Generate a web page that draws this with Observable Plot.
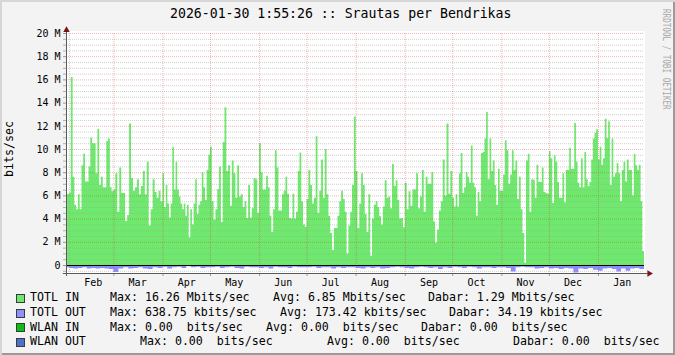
<!DOCTYPE html>
<html><head><meta charset="utf-8">
<script src="https://cdn.jsdelivr.net/npm/d3@7"></script>
<script src="https://cdn.jsdelivr.net/npm/@observablehq/plot@0.6"></script>
<style>
body{margin:0;background:#fff}
#wrap{position:relative;width:675px;height:355px;background:#f3f3f3;box-shadow:inset 2px 2px 0 #d6d6d6, inset -2px -2px 0 #9a9a9a;font-family:"DejaVu Sans Mono",monospace;overflow:hidden}
#canvas{position:absolute;left:66px;top:31px;width:579px;height:242px;background:#fff}
#wrap svg{position:absolute;left:0;top:0}
.t{position:absolute;white-space:pre;color:#000;line-height:1}
.sq{position:absolute;width:7px;height:7px;border:1px solid #3a3a3a}
</style></head><body><div id="wrap"><div id="canvas"></div></div>
<script>
// ---- data (Mbits/sec), one array per month segment ----
const title = "2026-01-30 1:55:26 :: Srautas per Bendrikas";
const periodStarts = ["2025-01-30T01:55:26Z","2025-02-01","2025-03-01","2025-04-01","2025-05-01","2025-06-01","2025-07-01","2025-08-01","2025-09-01","2025-10-01","2025-11-01","2025-12-01","2026-01-01"];
const periodEnd = "2026-01-30T01:55:26Z";

const inJan25 = [6.1, 6.15];
const inFeb = [6.26, 16.2, 7.6, 5.2, 4.8, 6.1, 4.8, 8.6, 9.6, 7.2, 7.2, 8.5, 11.0, 10.5, 10.5, 7.9, 11.75, 6.9, 7.6, 6.7, 6.7, 10.7, 10.9, 6.7, 6.35];
const inMar = [6.5, 7.9, 4.6, 8.4, 6.2, 6.2, 3.8, 4.3, 12.2, 7.5, 6.4, 6.7, 7.4, 6.1, 6.8, 8.1, 6.1, 8.9, 3.4, 4.8, 7.4, 6.3, 5.8, 6.4, 5.5];
const inApr = [7.9, 5.0, 6.9, 5.3, 4.1, 5.3, 10.2, 6.5, 8.9, 6.5, 5.9, 5.3, 4.8, 5.3, 4.25, 5.2, 2.4, 4.8, 3.5, 5.3, 7.4, 4.4, 5.2, 5.5, 8.0, 6.7, 5.6, 8.2, 9.5];
const inMay = [10.2, 5.5, 3.9, 4.8, 6.55, 8.5, 3.7, 10.6, 13.6, 8.1, 8.6, 5.1, 9.0, 7.9, 5.8, 8.6, 5.9, 6.1, 5.0, 5.5, 4.05, 6.9, 4.1, 4.9, 7.5, 7.4, 4.5];
const inJun = [10.5, 8.0, 6.5, 6.5, 7.7, 6.7, 4.25, 2.85, 4.8, 9.9, 8.4, 4.7, 4.7, 6.1, 6.4, 7.6, 6.15, 4.05, 4.0, 6.15, 4.0, 4.6, 8.1, 9.7, 5.5, 3.5, 3.3];
const inJul = [5.7, 8.2, 6.9, 5.3, 5.8, 11.1, 4.5, 6.4, 9.1, 5.8, 10.0, 6.1, 4.25, 2.75, 1.3, 3.2, 3.2, 4.25, 5.5, 6.4, 5.7, 4.6, 1.0, 3.4, 4.6, 6.9, 12.8];
const inAug = [8.1, 3.2, 5.3, 7.9, 6.9, 4.4, 2.85, 6.1, 0.8, 4.0, 5.2, 5.5, 5.0, 4.2, 3.5, 5.05, 7.3, 5.8, 5.9, 4.9, 8.7, 6.8, 7.3, 5.6, 4.0, 4.05, 3.25];
const inSep = [7.1, 4.8, 6.35, 5.1, 6.5, 6.5, 7.9, 4.9, 5.9, 8.2, 4.6, 7.6, 7.0, 7.0, 8.0, 3.75, 1.95, 3.05, 4.7, 5.5, 9.1, 6.0, 12.2, 6.15, 8.1];
const inOct = [5.8, 5.05, 6.1, 5.05, 7.9, 9.65, 6.2, 6.7, 8.0, 7.6, 7.1, 10.3, 7.1, 6.7, 4.25, 6.3, 5.5, 9.65, 9.75, 10.9, 13.2, 7.4, 10.9, 8.1, 9.0, 6.9, 5.2, 8.3, 6.4];
const inNov = [6.4, 7.8, 10.75, 9.9, 7.0, 7.8, 9.9, 8.2, 9.0, 5.7, 7.6, 4.8, 2.75, 0.2, 9.0, 9.6, 4.6, 7.4, 7.35, 5.8, 8.65, 7.15, 7.15, 8.4, 6.3, 6.2, 6.15];
const inDec = [9.8, 9.2, 5.35, 9.45, 8.9, 7.15, 5.8, 5.8, 7.9, 5.4, 8.2, 8.2, 10.1, 8.3, 8.3, 12.25, 8.9, 7.1, 6.7, 9.2, 6.7, 9.75, 7.4, 6.8, 7.15, 9.1, 10.9, 11.4, 11.7];
const inJan26 = [9.1, 10.2, 8.65, 9.2, 12.6, 10.95, 12.4, 6.9, 10.9, 7.6, 7.9, 8.8, 7.9, 5.5, 8.2, 8.9, 7.2, 9.1, 8.2, 8.2, 6.0, 9.6, 8.6, 8.2, 8.65, 5.5, 1.2];

const outJan25 = [0.2, 0.2];
const outFeb = [0.25, 0.3, 0.25, 0.2, 0.3, 0.25, 0.3, 0.25, 0.3, 0.35];
const outMar = [0.6, 0.3, 0.2, 0.3, 0.25, 0.2, 0.3, 0.35, 0.2, 0.25];
const outApr = [0.15, 0.3, 0.2, 0.15, 0.25, 0.1, 0.2, 0.15, 0.25, 0.2];
const outMay = [0.2, 0.15, 0.25, 0.2, 0.15, 0.25, 0.3, 0.15, 0.2, 0.2];
const outJun = [0.25, 0.2, 0.3, 0.15, 0.2, 0.2, 0.25, 0.15, 0.2, 0.2];
const outJul = [0.2, 0.15, 0.25, 0.2, 0.2, 0.3, 0.2, 0.25, 0.2, 0.2];
const outAug = [0.25, 0.3, 0.2, 0.25, 0.2, 0.3, 0.25, 0.2, 0.15, 0.2];
const outSep = [0.25, 0.3, 0.2, 0.15, 0.2, 0.25, 0.2, 0.35, 0.2, 0.25];
const outOct = [0.15, 0.2, 0.25, 0.15, 0.2, 0.3, 0.2, 0.2, 0.25, 0.2];
const outNov = [0.2, 0.25, 0.55, 0.2, 0.15, 0.2, 0.2, 0.3, 0.25, 0.2];
const outDec = [0.3, 0.25, 0.35, 0.25, 0.3, 0.64, 0.3, 0.35, 0.25, 0.4];
const outJan26 = [0.5, 0.3, 0.25, 0.35, 0.55, 0.3, 0.5, 0.3, 0.25, 0.35];

const yMax = 20, yMin = -0.69;
const majorY = [0, 2, 4, 6, 8, 10, 12, 14, 16, 18, 20];
const minorY = [-0.5,0.5,1,1.5,2.5,3,3.5,4.5,5,5.5,6.5,7,7.5,8.5,9,9.5,10.5,11,11.5,12.5,13,13.5,14.5,15,15.5,16.5,17,17.5,18.5,19,19.5];
const minorX = ["2025-02-01"];
const majorX = ["2025-03-01","2025-04-01","2025-05-01","2025-06-01","2025-07-01","2025-08-01","2025-09-01","2025-10-01","2025-11-01","2025-12-01","2026-01-01"];
const monthLabels = ["2025-02-16","2025-03-16","2025-04-16","2025-05-16","2025-06-16","2025-07-16","2025-08-16","2025-09-16","2025-10-16","2025-11-16","2025-12-16","2026-01-16"];

const legendRows = [
  {name:"TOTL IN",  color:"#6ee96e", cols:[[110,"Max: 16.26 Mbits/sec"],[273,"Avg: 6.85 Mbits/sec"],[428,"Dabar: 1.29 Mbits/sec"]]},
  {name:"TOTL OUT", color:"#9090ff", cols:[[110,"Max: 638.75 kbits/sec"],[280,"Avg: 173.42 kbits/sec"],[449,"Dabar: 34.19 kbits/sec"]]},
  {name:"WLAN IN",  color:"#0fbf0f", cols:[[110,"Max: 0.00  bits/sec"],[266,"Avg: 0.00  bits/sec"],[421,"Dabar: 0.00  bits/sec"]]},
  {name:"WLAN OUT", color:"#4f6fcf", cols:[[140,"Max: 0.00  bits/sec"],[327,"Avg: 0.00  bits/sec"],[513,"Dabar: 0.00  bits/sec"]]}
];

// ---- build ----
const starts = periodStarts.map(s => new Date(s));
const end = new Date(periodEnd);
function steps(arrs){
  const pts = [];
  arrs.forEach((vals, k) => {
    const a = +starts[k], b = k + 1 < starts.length ? +starts[k+1] : +end;
    const w = (b - a) / vals.length;
    vals.forEach((v, i) => pts.push({t: new Date(a + i*w), v}));
  });
  pts.push({t: end, v: pts[pts.length-1].v});
  return pts;
}
const inPts = steps([inJan25,inFeb,inMar,inApr,inMay,inJun,inJul,inAug,inSep,inOct,inNov,inDec,inJan26]);
const outPts = steps([outJan25,outFeb,outMar,outApr,outMay,outJun,outJul,outAug,outSep,outOct,outNov,outDec,outJan26]);
const D = s => new Date(s);
const day = 864e5;
const red = "#d03030", gray = "#a0a0a0";

const chart = Plot.plot({
  width: 675, height: 355,
  marginLeft: 66, marginRight: 31, marginTop: 33, marginBottom: 82,
  style: {background: "transparent", fontFamily: "'DejaVu Sans Mono', monospace", fontSize: "10px", color: "#000", overflow: "visible"},
  x: {type: "utc", domain: [starts[0], end], label: null},
  y: {domain: [yMin, yMax], label: null},
  marks: [
    Plot.areaY(inPts, {x: "t", y: "v", curve: "step-after", fill: "#6ee96e"}),
    Plot.areaY(outPts, {x: "t", y: d => -d.v, curve: "step-after", fill: "#8c8cff"}),
    Plot.ruleY(minorY, {stroke: gray, strokeOpacity: 0.5, strokeDasharray: "1,1"}),
    Plot.ruleY(majorY, {stroke: red, strokeOpacity: 0.35, strokeDasharray: "1,1"}),
    Plot.ruleX(minorX.map(D), {stroke: gray, strokeOpacity: 0.5, strokeDasharray: "1,1"}),
    Plot.ruleX(majorX.map(D), {stroke: red, strokeOpacity: 0.35, strokeDasharray: "1,1"}),
    Plot.ruleY([0], {stroke: "#000"}),
    Plot.axisY(minorY, {tickSize: 3, stroke: "#b0b0b0", tickFormat: () => "", label: null}),
    Plot.axisY(majorY, {tickSize: 3, tickPadding: 3, stroke: "#d08080", fill: "#000", tickFormat: v => v === 0 ? "0" : v + " M", label: null}),
    Plot.axisX(majorX.map(D), {tickSize: 3, stroke: "#d08080", tickFormat: () => "", label: null}),
    Plot.axisX(monthLabels.map(D), {tickSize: 0, tickPadding: 5.5, fill: "#000", tickFormat: d3.utcFormat("%b"), label: null}),
    Plot.ruleX([starts[0]], {y1: -0.95, y2: yMax + 0.35, stroke: "#5a5a5a"}),
    Plot.ruleY([yMin], {x1: new Date(+starts[0] - 2*day), x2: new Date(+end + 2.2*day), stroke: "#5a5a5a"}),
    Plot.dot([starts[0]], {x: d => d, y: () => yMax + 0.3, symbol: "triangle", r: 2.4, fill: "#7a1515", stroke: null}),
    Plot.dot([end], {x: d => new Date(+d + 3*day), y: () => yMin, symbol: "triangle", rotate: 90, r: 2.4, fill: "#7a1515", stroke: null})
  ]
});
const wrap = document.getElementById("wrap");
wrap.appendChild(chart);

function addText(txt, left, cy, fs, extra){
  const el = document.createElement("div");
  el.className = "t";
  el.textContent = txt;
  el.style.left = left + "px";
  el.style.top = (cy - 0.48*fs) + "px";
  el.style.fontSize = fs + "px";
  if (extra) Object.assign(el.style, extra);
  wrap.appendChild(el);
  return el;
}
addText(title, 170, 13.5, 13.2);
// y-axis label
const yl = addText("bits/sec", 10, 149, 11.6, {transform: "translate(-50%,-50%) rotate(-90deg)", top: "149px", left: "10px"});
// watermark
const wm = document.createElement("div");
wm.className = "t";
wm.textContent = "RRDTOOL / TOBI OETIKER";
Object.assign(wm.style, {left: "661px", top: "9px", fontSize: "10px", color: "#a9a9a9", writingMode: "vertical-rl", transformOrigin: "top left", transform: "scaleY(0.76)"});
wrap.appendChild(wm);
// legend
const rowY = [298, 313, 327.5, 342];
legendRows.forEach((r, i) => {
  const sq = document.createElement("div");
  sq.className = "sq";
  sq.style.left = "16px";
  sq.style.top = (rowY[i] - 4.5) + "px";
  sq.style.background = r.color;
  wrap.appendChild(sq);
  addText(r.name, 30, rowY[i], 11.6);
  r.cols.forEach(([x, s]) => addText(s, x, rowY[i], 11.6));
});
</script></body></html>
